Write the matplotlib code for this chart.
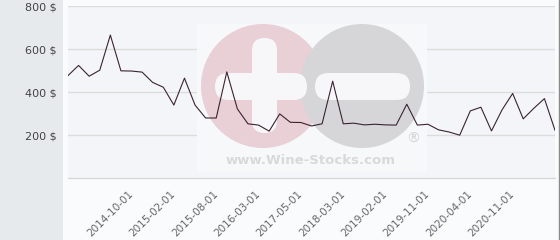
import matplotlib
matplotlib.use('Agg')
import matplotlib.pyplot as plt
import numpy as np
from matplotlib.patches import Circle, FancyBboxPatch, Rectangle
from matplotlib.lines import Line2D
from matplotlib.transforms import Affine2D

# prices, one per category
prices = [477, 524, 474, 502, 665, 499, 498, 493, 445, 423,
          340, 465, 340, 280, 280, 494, 322, 253, 247, 219,
          299, 260, 259, 243, 253, 451, 253, 256, 248, 251,
          248, 247, 344, 247, 251, 225, 215, 200, 313, 330,
          220, 318, 394, 276, 325, 370, 223]

tick_labels = ['2014-10-01', '2015-02-01', '2015-08-01', '2016-03-01', '2017-05-01',
               '2018-03-01', '2019-02-01', '2019-11-01', '2020-04-01', '2020-11-01']
y_ticks = [200, 400, 600, 800]

first_label = 6
label_step = 4


def main():
    W, H = 560, 240
    fig = plt.figure(figsize=(W / 100, H / 100), dpi=100, facecolor='#fafbfc')

    # pixel coords, origin top-left
    px = Affine2D().scale(1 / W, -1 / H).translate(0, 1) + fig.transFigure

    fig.patches.append(Rectangle((0, 0), 63, H, transform=px, facecolor='#e6eaed',
                                 edgecolor='none', zorder=-1))
    fig.lines.append(Line2D([559, 559], [0, H], transform=px, color='#8a8a8a', lw=1.0))

    ax = fig.add_axes([68 / W, 1 - 178.3 / H, (555 - 68) / W, (178.3 - 6) / H])
    ax.set_facecolor('#f4f5f8')

    x = np.arange(len(prices))
    ax.set_xlim(0, len(prices) - 1)
    ax.set_ylim(0, 800)

    # watermark
    wm = []
    wm.append(Rectangle((197, 24), 230, 148, facecolor='#f7f8fa', edgecolor='none'))
    wm.append(Circle((263, 86), 62, facecolor='#e9cfd6', edgecolor='none'))
    wm.append(Circle((362, 86), 62, facecolor='#d6d6d9', edgecolor='none'))
    wm.append(FancyBboxPatch((252, 38), 25, 95, boxstyle='round,pad=0,rounding_size=12.5',
                             facecolor='#f7f7f9', edgecolor='none'))
    wm.append(FancyBboxPatch((215, 73), 92, 27, boxstyle='round,pad=0,rounding_size=13.5',
                             facecolor='#f7f7f9', edgecolor='none'))
    wm.append(FancyBboxPatch((315, 73), 95, 27, boxstyle='round,pad=0,rounding_size=13.5',
                             facecolor='#f7f7f9', edgecolor='none'))
    for p in wm:
        p.set_transform(px)
        p.set_zorder(1)
        ax.add_patch(p)
    ax.text(311, 161, 'www.Wine-Stocks.com', transform=px, ha='center', va='center',
            fontsize=9.5, fontweight='bold', color='#d9d9db', zorder=1)
    ax.text(413, 139, '®', transform=px, ha='center', va='center',
            fontsize=10, color='#d4d4d6', zorder=1)

    ax.plot(x, prices, color='#3b2330', lw=0.8, zorder=3)

    ax.set_yticks(y_ticks)
    ax.set_yticklabels([f'{v} $' for v in y_ticks])
    ax.yaxis.grid(True, color='#dcdcdc', lw=1.0, zorder=1.5)
    ax.set_axisbelow(True)

    pos = list(range(first_label, first_label + label_step * len(tick_labels), label_step))
    ax.set_xticks(pos)
    ax.set_xticklabels(tick_labels, rotation=45, ha='right', va='center',
                       rotation_mode='anchor', fontsize=7.5, color='#666666')

    ax.tick_params(axis='x', length=0, pad=10)
    ax.tick_params(axis='y', length=0, pad=8, labelsize=8, labelcolor='#444444')

    for s in ['top', 'right', 'left']:
        ax.spines[s].set_visible(False)
    ax.spines['bottom'].set_color('#d8d8d8')
    ax.spines['bottom'].set_linewidth(1.0)

    fig.savefig('out.png', dpi=100, facecolor=fig.get_facecolor())


if __name__ == '__main__':
    main()
